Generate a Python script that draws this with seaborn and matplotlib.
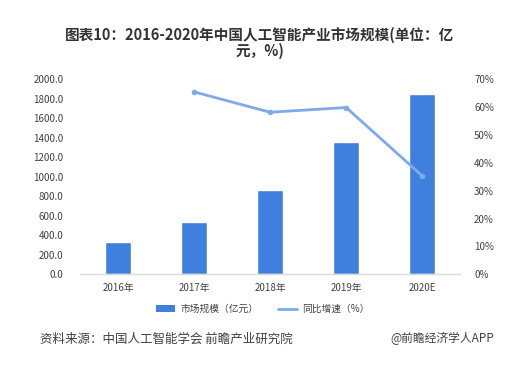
import numpy as np
import pandas as pd
import matplotlib
matplotlib.use("Agg")
import matplotlib.pyplot as plt
import seaborn as sns
from matplotlib.ticker import FuncFormatter
from matplotlib.lines import Line2D
from matplotlib.patches import Patch

categories = ["2016年", "2017年", "2018年", "2019年", "2020E"]
market_size = [328, 532, 860, 1360, 1850]
growth = [np.nan, 65.4, 58.1, 59.8, 35.3]
left_ticks = [0, 200, 400, 600, 800, 1000, 1200, 1400, 1600, 1800, 2000]
right_ticks = [0, 10, 20, 30, 40, 50, 60, 70]

sns.set_theme(style="white")
plt.rcParams["font.family"] = ["Noto Sans CJK SC", "DejaVu Sans"]
plt.rcParams["axes.unicode_minus"] = False

bar_color = "#3F80DE"
line_color = "#7EA9EA"
text_color = "#404040"

fig = plt.figure(figsize=(5.2, 3.66), dpi=100)
ax = fig.add_axes([0.154, 0.2505, 0.731, 0.5335])

df = pd.DataFrame({"cat": categories, "size": market_size, "growth": growth})
sns.barplot(data=df, x="cat", y="size", color=bar_color, width=0.34,
            saturation=1, ax=ax)
ax.set_xlim(-0.5, 4.5)
ax.set_ylim(0, 2000)
ax.set_yticks(left_ticks)
ax.yaxis.set_major_formatter(FuncFormatter(lambda v, p: f"{v:.1f}"))
ax.set_xlabel("")
ax.set_ylabel("")
for s in ["top", "right", "left"]:
    ax.spines[s].set_visible(False)
ax.spines["bottom"].set_color("#D9D9D9")
ax.spines["bottom"].set_linewidth(1)
ax.tick_params(axis="both", length=0, labelsize=7, colors=text_color, pad=6)
ax.tick_params(axis="y", pad=12)

ax2 = ax.twinx()
line_df = df.assign(idx=np.arange(len(categories))).dropna()
sns.lineplot(data=line_df, x="idx", y="growth", color=line_color, linewidth=2,
             marker="o", markersize=4, markeredgewidth=0, ax=ax2)
ax2.set_ylim(0, 70)
ax2.set_yticks(right_ticks)
ax2.yaxis.set_major_formatter(FuncFormatter(lambda v, p: f"{v:.0f}%"))
ax2.set_xlim(-0.5, 4.5)
ax2.set_ylabel("")
ax2.set_xlabel("")
for s in ["top", "right", "left", "bottom"]:
    ax2.spines[s].set_visible(False)
ax2.tick_params(axis="y", length=0, labelsize=7, colors=text_color, pad=10)

fig.text(0.5, 0.905, "图表10：2016-2020年中国人工智能产业市场规模(单位：亿",
         ha="center", va="center", fontsize=10.5, fontweight="bold", color="#333333")
fig.text(0.5, 0.862, "元，%)", ha="center", va="center", fontsize=10.5,
         fontweight="bold", color="#333333")

handles = [Patch(facecolor=bar_color, edgecolor="none"),
           Line2D([0], [0], color=line_color, linewidth=2)]
fig.legend(handles, ["市场规模（亿元）", "同比增速（%）"], loc="center",
           bbox_to_anchor=(0.505, 0.155), ncol=2, frameon=False, fontsize=7,
           handlelength=2.0, handleheight=0.7, columnspacing=2.0,
           handletextpad=0.5, labelcolor=text_color)

fig.text(0.077, 0.074, "资料来源：中国人工智能学会 前瞻产业研究院", ha="left",
         va="center", fontsize=9, color="#404040")
fig.text(0.95, 0.074, "@前瞻经济学人APP", ha="right", va="center",
         fontsize=8.5, color="#404040")

fig.savefig("out.png", dpi=100)
